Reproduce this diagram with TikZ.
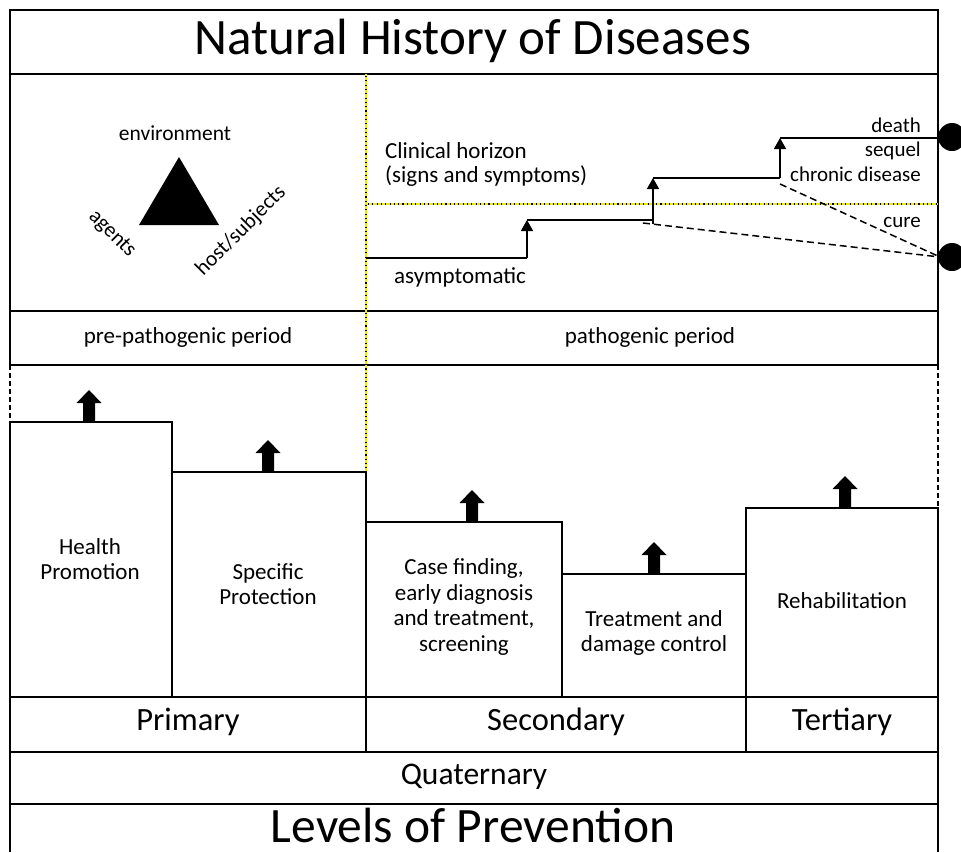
\documentclass[tikz,border=0pt]{standalone}
\usepackage{fontspec}
\setmainfont{Carlito}
\usetikzlibrary{arrows.meta}
\definecolor{hzyellow}{RGB}{235,235,20}
\begin{document}
\begin{tikzpicture}[x=1pt,y=-1pt,
  frame/.style={line width=1.6pt,draw=black},
  body/.style={font=\fontsize{23}{25.5}\selectfont,inner sep=0pt,align=center},
  outcome/.style={font=\fontsize{21}{25}\selectfont,inner sep=0pt,anchor=base east},
  triad/.style={font=\fontsize{21.5}{25}\selectfont,inner sep=0pt},
  levelfont/.style={font=\fontsize{32.5}{36}\selectfont,inner sep=0pt},
  stepline/.style={line width=1.6pt},
  steparrow/.style={line width=1.6pt,-{Triangle[width=12pt,length=11pt]}},
  dashline/.style={line width=1.5pt,dash pattern=on 7pt off 4pt},
  yellowline/.style={line width=2.6pt,draw=hzyellow},
  dotline/.style={line width=1.1pt,dash pattern=on 1.1pt off 3.2pt},
  uparrow/.pic={\fill[black] (-6,0) -- (-6,-19) -- (-12.5,-19) -- (0,-32)
                 -- (12.5,-19) -- (6,-19) -- (6,0) -- cycle;}]
\useasboundingbox (0,0) rectangle (961,852);

% ---------- title ----------
\draw[frame] (10,10) rectangle (938,74);
\node[inner sep=0pt,font=\fontsize{51}{56}\selectfont] (title) at (473,41) {Natural History of Diseases};

% ---------- upper panel and period row ----------
\draw[frame] (10,74) -- (10,365) (938,74) -- (938,365);
\draw[frame] (10,311) -- (938,311) (10,365) -- (938,365);
\draw[frame] (366,311) -- (366,365);

% epidemiological triad
\fill[black] (179,157) -- (139,225) -- (219,225) -- cycle;
\node[triad] (env) at (175,133) {environment};
\node[triad,rotate=-45] (agents) at (112,234) {agents};
\node[triad,rotate=45] (host) at (241,231) {host/subjects};

% clinical horizon
\draw[yellowline] (366,74) -- (366,472);
\draw[yellowline] (366,204) -- (938,204);
\draw[dotline] (366,76) -- (366,472);
\draw[dotline] (368,204) -- (938,204);
\node[body,anchor=base west] (horizon) at (385,158) {Clinical horizon};
\node[body,anchor=base west] (signs) at (385,182) {(signs and symptoms)};
\node[body,anchor=base west] (asym) at (394,283) {asymptomatic};

% course of the disease
\coordinate (s0) at (366,258);
\coordinate (s1) at (527,258);
\coordinate (s2) at (527,220);
\coordinate (s3) at (653,220);
\coordinate (s4) at (653,178);
\coordinate (s5) at (780,178);
\coordinate (s6) at (780,138);
\coordinate (s7) at (938,138);
\coordinate (c0) at (643,223);
\coordinate (c1) at (780,184);
\coordinate (cureend) at (940,257);
\draw[stepline] (s0) -- (s1);
\draw[steparrow] (s1) -- (s2);
\draw[stepline] (s2) -- (s3);
\draw[stepline] (653,224) -- (s3);
\draw[steparrow] (s3) -- (s4);
\draw[stepline] (s4) -- (s5);
\draw[steparrow] (s5) -- (s6);
\draw[stepline] (s6) -- (s7);
\draw[dashline] (c0) -- (cureend);
\draw[dashline] (c1) -- (cureend);
\fill[black] (952,137) circle (14);
\fill[black] (952,257) circle (14);
\node[outcome] (death) at (921,132) {death};
\node[outcome] (sequel) at (921,156) {sequel};
\node[outcome] (chronic) at (921,181) {chronic disease};
\node[outcome] (cure) at (921,227) {cure};

% periods
\node[body] (pre) at (188,337) {pre-pathogenic period};
\node[body] (path) at (650,337) {pathogenic period};

% ---------- prevention steps ----------
\draw[frame,dash pattern=on 5pt off 3pt] (10,365) -- (10,422);
\draw[frame,dash pattern=on 5pt off 3pt] (938,365) -- (938,508);
\draw[frame] (10,422) rectangle (172,697);
\draw[frame] (172,472) rectangle (366,697);
\draw[frame] (366,522) rectangle (562,697);
\draw[frame] (562,574) rectangle (746,697);
\draw[frame] (746,508) rectangle (938,697);
\pic at (89,422) {uparrow};
\pic at (268,472) {uparrow};
\pic at (472,522) {uparrow};
\pic at (654,574) {uparrow};
\pic at (845,508) {uparrow};
\node[body] (hp) at (90,559) {Health\\Promotion};
\node[body] (sp) at (268,584) {Specific\\Protection};
\node[body] (cf) at (464,607) {Case finding,\\early diagnosis\\and treatment,\\screening};
\node[body] (tr) at (654,633) {Treatment and\\damage control};
\node[body] (rh) at (842,601) {Rehabilitation};

% ---------- levels ----------
\draw[frame] (10,697) rectangle (366,752);
\draw[frame] (366,697) rectangle (746,752);
\draw[frame] (746,697) rectangle (938,752);
\draw[frame] (10,752) rectangle (938,804);
\draw[frame] (10,852) -- (10,804) -- (938,804) -- (938,852);
\node[levelfont] (prim) at (188,722) {Primary};
\node[levelfont] (sec) at (556,722) {Secondary};
\node[levelfont] (ter) at (842,722) {Tertiary};
\node[inner sep=0pt,font=\fontsize{31.5}{36}\selectfont] (quat) at (474,777) {Quaternary};
\node[inner sep=0pt,anchor=base,font=\fontsize{49.5}{54}\selectfont] (lop) at (473,842) {Levels of Prevention};
\end{tikzpicture}
\end{document}
